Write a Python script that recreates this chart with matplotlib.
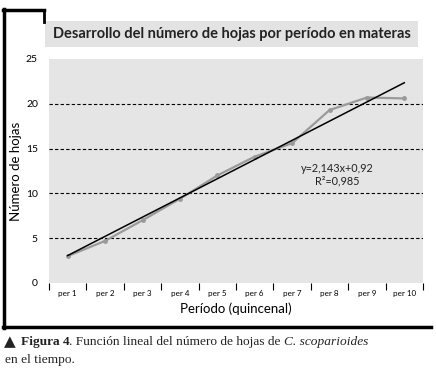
import numpy as np
import matplotlib.pyplot as plt
from matplotlib.lines import Line2D
from matplotlib.patches import Rectangle

# data
periods = ["per 1", "per 2", "per 3", "per 4", "per 5",
           "per 6", "per 7", "per 8", "per 9", "per 10"]
hojas = [3.0, 4.7, 7.0, 9.4, 12.0, 14.1, 15.6, 19.3, 20.7, 20.6]
slope = 2.143
intercept = 0.92
r2 = 0.985

plt.rcParams['font.family'] = ['Lato', 'DejaVu Sans']

fig = plt.figure(figsize=(4.36, 3.76), dpi=100)
W, H = 436.0, 376.0

def fx(px):
    return px / W

def fy(py):
    return 1 - py / H

ax = fig.add_axes([fx(49), fy(283), fx(423) - fx(49), fy(59) - fy(283)])
ax.set_facecolor("#e5e5e5")

x = np.arange(1, len(hojas) + 1)
ax.plot(x, hojas, color="#9a9a9a", lw=1.6, marker="o", ms=2.5, zorder=3)
xt = np.array([1, 10])
ax.plot(xt, slope * xt + intercept, color="black", lw=1.1, zorder=4)

ax.set_xlim(0.5, 10.5)
ax.set_ylim(0, 25)
ax.set_yticks([0, 5, 10, 15, 20, 25])
ax.set_xticks(x)
ax.set_xticklabels(periods, fontsize=5.8)
ax.set_xticks(np.arange(0.5, 11, 1), minor=True)
ax.tick_params(axis="x", which="major", length=0, pad=5)
ax.tick_params(axis="x", which="minor", length=5, width=0.8, color="black",
               direction="out")
ax.tick_params(axis="y", length=0, labelsize=7.5, pad=8)
for yv in [5, 10, 15, 20]:
    ax.axhline(yv, color="black", lw=0.8, ls=(0, (3, 2)), zorder=1)
for s in ax.spines.values():
    s.set_visible(False)

ax.set_ylabel("Número de hojas", fontsize=9.5)
ax.yaxis.set_label_coords(-(49 - 22) / 374, 0.5)
ax.set_xlabel("Período (quincenal)", fontsize=9.5, labelpad=4)

ax.text(8.2, 12.1, "y=2,143x+0,92\nR²=0,985",
        ha="center", va="center", fontsize=7.8, linespacing=1.1, color="#222222")

# title box
fig.patches.append(Rectangle((fx(45), fy(47)), fx(418) - fx(45), fy(21) - fy(47),
                             transform=fig.transFigure, facecolor="#e3e3e3",
                             edgecolor="none", zorder=0))
fig.text(fx(232), fy(34), "Desarrollo del número de hojas por período en materas",
         ha="center", va="center", fontsize=10.5, fontweight="bold", color="#222222")

# frame
fig.lines.append(Line2D([fx(4), fx(4)], [fy(9), fy(328)], color="black", lw=2.5,
                        transform=fig.transFigure))
fig.lines.append(Line2D([fx(3), fx(44)], [fy(10), fy(10)], color="black", lw=2.5,
                        transform=fig.transFigure))
fig.lines.append(Line2D([fx(44), fx(44)], [fy(10), fy(22)], color="black", lw=2,
                        transform=fig.transFigure))
fig.lines.append(Line2D([fx(3), fx(431)], [fy(327), fy(327)], color="black", lw=2.5,
                        transform=fig.transFigure))

# caption, built piece by piece
fig.canvas.draw()
r = fig.canvas.get_renderer()
pieces = [("▲ ", "normal", "normal", "DejaVu Sans", 11),
          ("Figura 4", "bold", "normal", "Liberation Serif", 9.6),
          (". Función lineal del número de hojas de ", "normal", "normal", "Liberation Serif", 9.6),
          ("C. scoparioides", "normal", "italic", "Liberation Serif", 9.6)]
cx = 4
for txt, wt, st, fam, fs in pieces:
    t = fig.text(fx(cx), fy(342), txt, ha="left", va="center", fontsize=fs,
                 fontweight=wt, fontstyle=st, family=fam, color="#222222")
    bb = t.get_window_extent(r)
    cx += bb.width
fig.text(fx(5), fy(360), "en el tiempo.", ha="left", va="center", fontsize=9.6,
         family="Liberation Serif", color="#222222")

fig.savefig("out.png", dpi=100)
